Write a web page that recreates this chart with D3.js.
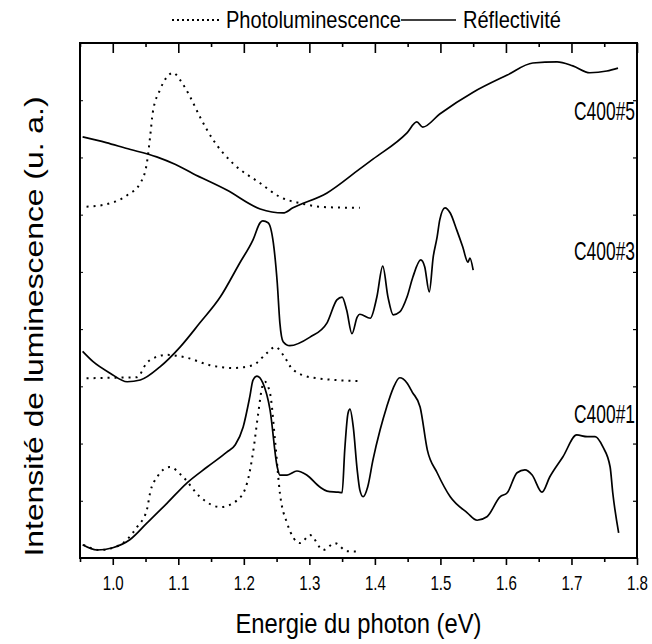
<!DOCTYPE html>
<html>
<head>
<meta charset="utf-8">
<script src="https://cdn.jsdelivr.net/npm/d3@7/dist/d3.min.js"></script>
<style>
  body { margin: 0; background: #fff; }
  text { font-family: "Liberation Sans Narrow", "Liberation Sans", Arial, sans-serif; fill: #000; }
</style>
</head>
<body>
<svg id="chart" width="652" height="644"></svg>
<script>
// Photon energy (eV) and intensity (arbitrary units, samples stacked with offsets)

// Sample C400#5
const c5ReflE = [0.954, 0.990, 1.020, 1.067, 1.095, 1.122, 1.174, 1.225, 1.260, 1.275, 1.327, 1.377, 1.397, 1.449, 1.464, 1.473, 1.499, 1.550, 1.602, 1.641, 1.678, 1.702, 1.728, 1.754, 1.771];
const c5ReflI = [7.36, 7.26, 7.16, 7.01, 6.88, 6.72, 6.43, 6.10, 6.03, 6.12, 6.38, 6.80, 6.97, 7.43, 7.62, 7.53, 7.76, 8.14, 8.44, 8.65, 8.67, 8.60, 8.48, 8.51, 8.56];
const c5PlE = [0.960, 0.985, 1.022, 1.042, 1.052, 1.057, 1.061, 1.072, 1.083, 1.092, 1.103, 1.118, 1.133, 1.153, 1.183, 1.225, 1.255, 1.286, 1.327, 1.377];
const c5PlI = [6.14, 6.17, 6.34, 6.55, 6.90, 7.36, 7.78, 8.18, 8.41, 8.48, 8.35, 8.06, 7.71, 7.31, 6.90, 6.55, 6.31, 6.20, 6.13, 6.12];

// Sample C400#3
const c3ReflE = [0.954, 0.970, 0.996, 1.022, 1.042, 1.072, 1.103, 1.133, 1.164, 1.194, 1.214, 1.225, 1.229, 1.237, 1.245, 1.251, 1.255, 1.260, 1.270, 1.301, 1.327, 1.342, 1.350, 1.357, 1.365, 1.373, 1.377, 1.393, 1.403, 1.412, 1.420, 1.428, 1.438, 1.449, 1.458, 1.470, 1.476, 1.483, 1.489, 1.495, 1.499, 1.507, 1.515, 1.525, 1.534, 1.542, 1.545, 1.550];
const c3ReflI = [3.61, 3.43, 3.23, 3.08, 3.11, 3.34, 3.69, 4.11, 4.56, 5.16, 5.56, 5.86, 5.89, 5.86, 5.51, 4.81, 4.11, 3.78, 3.71, 3.86, 4.11, 4.51, 4.56, 4.33, 3.92, 4.21, 4.26, 4.19, 4.56, 5.10, 4.56, 4.25, 4.30, 4.56, 4.91, 5.21, 5.09, 4.65, 5.26, 5.61, 5.91, 6.12, 6.03, 5.73, 5.44, 5.17, 5.24, 5.03];
const c3PlE = [0.960, 0.996, 1.037, 1.052, 1.057, 1.083, 1.113, 1.148, 1.183, 1.214, 1.235, 1.248, 1.260, 1.275, 1.306, 1.377];
const c3PlI = [3.14, 3.15, 3.16, 3.41, 3.46, 3.55, 3.50, 3.37, 3.32, 3.37, 3.58, 3.69, 3.55, 3.29, 3.15, 3.09];

// Sample C400#1
const c1ReflE = [0.954, 0.976, 1.000, 1.026, 1.052, 1.083, 1.113, 1.144, 1.174, 1.187, 1.199, 1.209, 1.214, 1.220, 1.229, 1.240, 1.251, 1.255, 1.266, 1.281, 1.296, 1.316, 1.327, 1.344, 1.350, 1.354, 1.359, 1.362, 1.367, 1.373, 1.377, 1.382, 1.389, 1.397, 1.408, 1.418, 1.428, 1.438, 1.449, 1.457, 1.469, 1.480, 1.495, 1.515, 1.541, 1.556, 1.571, 1.591, 1.602, 1.617, 1.629, 1.640, 1.655, 1.667, 1.687, 1.708, 1.724, 1.736, 1.748, 1.759, 1.763, 1.772];
const c1ReflI = [0.23, 0.14, 0.18, 0.32, 0.61, 0.96, 1.31, 1.59, 1.85, 1.98, 2.29, 2.81, 3.11, 3.18, 3.06, 2.59, 1.59, 1.45, 1.45, 1.52, 1.45, 1.24, 1.17, 1.15, 1.14, 1.89, 2.53, 2.60, 2.29, 1.54, 1.19, 1.07, 1.24, 1.71, 2.24, 2.64, 2.97, 3.15, 3.06, 2.90, 2.64, 1.89, 1.49, 1.07, 0.79, 0.66, 0.72, 1.07, 1.14, 1.49, 1.54, 1.45, 1.15, 1.42, 1.77, 2.15, 2.12, 2.12, 1.94, 1.59, 1.14, 0.44];
const c1PlE = [0.955, 0.981, 1.011, 1.037, 1.052, 1.057, 1.068, 1.087, 1.107, 1.133, 1.164, 1.190, 1.205, 1.214, 1.222, 1.228, 1.232, 1.240, 1.248, 1.255, 1.266, 1.286, 1.301, 1.321, 1.339, 1.357, 1.377];
const c1PlI = [0.23, 0.14, 0.23, 0.54, 0.84, 1.14, 1.42, 1.59, 1.42, 1.07, 0.89, 1.01, 1.31, 1.84, 2.53, 2.99, 3.08, 2.88, 2.01, 1.14, 0.61, 0.26, 0.40, 0.14, 0.26, 0.12, 0.11];

// Axis ticks
const xMajorTicks = [1.0, 1.1, 1.2, 1.3, 1.4, 1.5, 1.6, 1.7, 1.8];
const xMinorTicks = [0.95, 1.05, 1.15, 1.25, 1.35, 1.45, 1.55, 1.65, 1.75];
const yTicks = [1, 2, 3, 4, 5, 6, 7, 8];

const sampleLabels = ["C400#5", "C400#3", "C400#1"];
const legendLabels = ["Photoluminescence", "Réflectivité"];

const svg = d3.select("#chart");
const plotLeft = 80, plotRight = 637, plotTop = 43, plotBottom = 558;

const x = d3.scaleLinear().domain([0.95, 1.8]).range([plotLeft, plotRight]);
const y = d3.scaleLinear().domain([0, 9]).range([plotBottom, plotTop]);

// Helper: one axis group per tick set, so the sets do not replace each other
function axisGroup(axis, tx, ty, width) {
  const g = svg.append("g").attr("transform", `translate(${tx},${ty})`).call(axis);
  g.selectAll(".domain").remove();
  g.selectAll("line").attr("stroke", "#000").attr("stroke-width", width);
  return g;
}

// Bottom axis: outward ticks with labels
const gBottom = axisGroup(d3.axisBottom(x).tickValues(xMajorTicks).tickSize(7).tickPadding(10).tickFormat(d3.format(".1f")), 0, plotBottom, 1.6);
gBottom.selectAll("text")
  .attr("font-size", 21).attr("fill", "#000")
  .attr("textLength", 21).attr("lengthAdjust", "spacingAndGlyphs");
axisGroup(d3.axisBottom(x).tickValues(xMinorTicks).tickSize(4).tickFormat(""), 0, plotBottom, 1.6);

// Top axis: inward ticks
axisGroup(d3.axisTop(x).tickValues(xMajorTicks).tickSize(-10).tickFormat(""), 0, plotTop, 1.6);
axisGroup(d3.axisTop(x).tickValues(xMinorTicks).tickSize(-4).tickFormat(""), 0, plotTop, 1.6);

// Left and right axes: short inward ticks
axisGroup(d3.axisLeft(y).tickValues(yTicks).tickSize(-3).tickFormat(""), plotLeft, 0, 1);
axisGroup(d3.axisRight(y).tickValues(yTicks).tickSize(-4).tickFormat(""), plotRight, 0, 1.2);

// Frame
svg.append("rect")
  .attr("x", plotLeft).attr("y", plotTop)
  .attr("width", plotRight - plotLeft).attr("height", plotBottom - plotTop)
  .attr("fill", "none").attr("stroke", "#000").attr("stroke-width", 2);

// Curves
const line = d3.line()
  .x(d => x(d[0]))
  .y(d => y(d[1]))
  .curve(d3.curveMonotoneX);

const series = [
  { e: c5ReflE, i: c5ReflI, dotted: false },
  { e: c5PlE, i: c5PlI, dotted: true },
  { e: c3ReflE, i: c3ReflI, dotted: false },
  { e: c3PlE, i: c3PlI, dotted: true },
  { e: c1ReflE, i: c1ReflI, dotted: false },
  { e: c1PlE, i: c1PlI, dotted: true }
];

svg.append("g").selectAll("path")
  .data(series)
  .join("path")
  .attr("d", s => line(d3.zip(s.e, s.i)))
  .attr("fill", "none")
  .attr("stroke", "#000")
  .attr("stroke-width", s => s.dotted ? 2 : 1.7)
  .attr("stroke-dasharray", s => s.dotted ? "2,5" : null)
  .attr("stroke-linejoin", "round");

// Sample names
const labelBaselines = [120, 260, 423];
svg.append("g").selectAll("text")
  .data(sampleLabels)
  .join("text")
  .attr("x", plotRight - 2)
  .attr("y", (d, k) => labelBaselines[k])
  .attr("text-anchor", "end")
  .attr("font-size", 25)
  .attr("textLength", 61)
  .attr("lengthAdjust", "spacingAndGlyphs")
  .text(d => d);

// Legend
const legend = svg.append("g");
legend.append("line")
  .attr("x1", 172).attr("x2", 222).attr("y1", 20).attr("y2", 20)
  .attr("stroke", "#000").attr("stroke-width", 2).attr("stroke-dasharray", "2,3");
legend.append("text")
  .attr("x", 226).attr("y", 28).attr("font-size", 24)
  .attr("textLength", 175).attr("lengthAdjust", "spacingAndGlyphs")
  .text(legendLabels[0]);
legend.append("line")
  .attr("x1", 401).attr("x2", 456).attr("y1", 20).attr("y2", 20)
  .attr("stroke", "#000").attr("stroke-width", 1.7);
legend.append("text")
  .attr("x", 463).attr("y", 28).attr("font-size", 24)
  .attr("textLength", 98).attr("lengthAdjust", "spacingAndGlyphs")
  .text(legendLabels[1]);

// Axis titles
svg.append("text")
  .attr("x", (plotLeft + plotRight) / 2).attr("y", 633)
  .attr("text-anchor", "middle").attr("font-size", 27)
  .attr("textLength", 246).attr("lengthAdjust", "spacingAndGlyphs")
  .text("Energie du photon (eV)");

svg.append("text")
  .attr("transform", `translate(43,${(plotTop + plotBottom) / 2 + 26}) rotate(-90)`)
  .attr("text-anchor", "middle").attr("font-size", 26)
  .attr("textLength", 460).attr("lengthAdjust", "spacingAndGlyphs")
  .text("Intensité de luminescence (u. a.)");
</script>
</body>
</html>
